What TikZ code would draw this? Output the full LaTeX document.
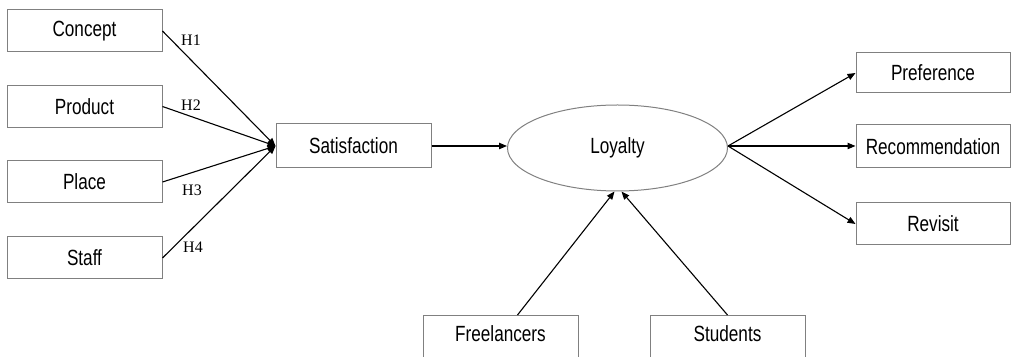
\documentclass[tikz,border=0pt]{standalone}
\usepackage{fontspec}
\setmainfont{Liberation Sans}[FakeStretch=0.78]
\newfontfamily\hfont{Liberation Serif}
\usetikzlibrary{arrows.meta,shapes.geometric,calc}
\begin{document}
\begin{tikzpicture}[x=0.5pt,y=-0.5pt,
  lbl/.style={font=\fontsize{11}{13}\selectfont},
  box/.style={lbl,draw=black!50,line width=0.5pt,rectangle,inner sep=0pt,minimum width=77.5pt,minimum height=21pt},
  oval/.style={lbl,draw=black!50,line width=0.5pt,ellipse,inner sep=0pt,minimum width=110pt,minimum height=43pt},
  arr/.style={draw=black,line width=0.55pt,-{Triangle[length=4pt,width=3.2pt]}},
  hlab/.style={font=\hfont\fontsize{8}{10}\selectfont,inner sep=0pt}]
\useasboundingbox (0,0) rectangle (1013,357);
\clip (0,0) rectangle (1013,357);
\node[box] (concept) at (84.5,31) {Concept};
\node[box] (product) at (84.5,106.5) {Product};
\node[box] (place) at (84.5,182) {Place};
\node[box] (staff) at (84.5,258) {Staff};
\node[box,minimum height=22pt] (sat) at (353.5,146) {Satisfaction};
\node[oval] (loy) at (617.5,148) {Loyalty};
\node[box,minimum width=77pt,minimum height=20pt] (pref) at (933,73) {Preference};
\node[box,minimum width=77pt,minimum height=21.5pt] (rec) at (933,146.5) {Recommendation};
\node[box,minimum width=77pt,minimum height=21pt] (rev) at (933,224) {Revisit};
\node[box,minimum height=42pt,anchor=north] (free) at (500.5,315) {};
\node[lbl] (freet) at (500.5,334) {Freelancers};
\node[box,minimum height=42pt,anchor=north] (stud) at (727.5,315) {};
\node[lbl] (studt) at (727.5,334) {Students};
\draw[arr] (concept.east) -- (sat.west);
\draw[arr] (product.east) -- (sat.west);
\draw[arr] (place.east) -- (sat.west);
\draw[arr] (staff.east) -- (sat.west);
\node[hlab] (h1) at (191,40) {H1};
\node[hlab] (h2) at (191,105) {H2};
\node[hlab] (h3) at (192,190) {H3};
\node[hlab] (h4) at (193,247) {H4};
\draw[arr] (sat.east) -- (sat.east -| loy.west);
\coordinate (lr) at (sat.east -| loy.east);
\draw[arr] (lr) -- (pref.west);
\draw[arr] (lr) -- (lr -| rec.west);
\draw[arr] (lr) -- (rev.west);
\draw[arr] ([xshift=8.5]free.north) -- ([xshift=-1.5]loy.south);
\draw[arr] (stud.north) -- ([xshift=2]loy.south);
\end{tikzpicture}
\end{document}
